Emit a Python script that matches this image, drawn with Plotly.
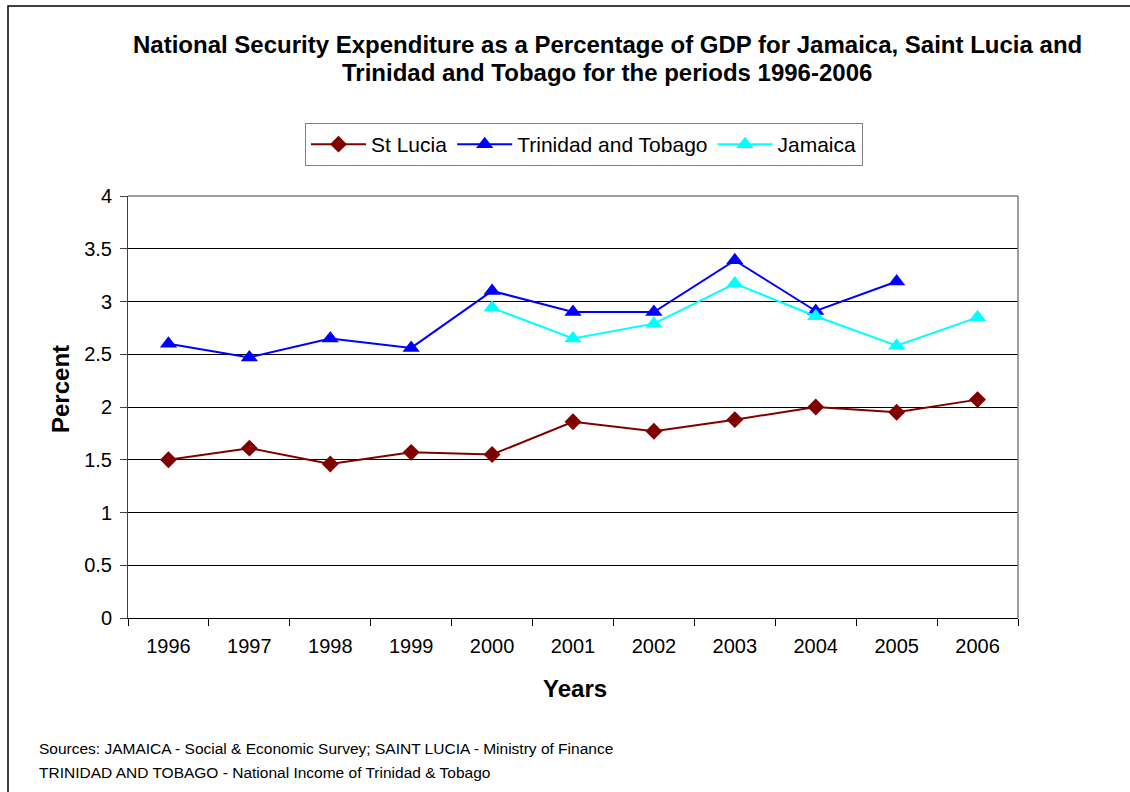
import plotly.graph_objects as go

years = ["1996", "1997", "1998", "1999", "2000", "2001", "2002", "2003", "2004", "2005", "2006"]
st_lucia = [1.50, 1.61, 1.46, 1.57, 1.55, 1.86, 1.77, 1.88, 2.00, 1.95, 2.07]
trinidad = [2.60, 2.47, 2.65, 2.56, 3.10, 2.90, 2.90, 3.39, 2.91, 3.19, None]
jamaica = [None, None, None, None, 2.94, 2.65, 2.79, 3.17, 2.86, 2.58, 2.85]
y_ticks = [0, 0.5, 1, 1.5, 2, 2.5, 3, 3.5, 4]
y_tick_labels = ["0", "0.5", "1", "1.5", "2", "2.5", "3", "3.5", "4"]

W, H = 1130, 792
L, R, T, B = 128, 1018, 196, 618

def px_x(p):
    return (p - L) / (R - L)

def px_y(p):
    return (B - p) / (B - T)

fig = go.Figure()
fig.add_trace(go.Scatter(x=years, y=st_lucia, name="St Lucia", mode="lines+markers",
                         line=dict(color="#800000", width=2),
                         marker=dict(symbol="diamond", size=13, color="#800000")))
fig.add_trace(go.Scatter(x=years, y=trinidad, name="Trinidad and Tobago", mode="lines+markers",
                         line=dict(color="#0000FF", width=2),
                         marker=dict(symbol="triangle-up", size=15, color="#0000FF")))
fig.add_trace(go.Scatter(x=years, y=jamaica, name="Jamaica", mode="lines+markers",
                         line=dict(color="#00FFFF", width=2),
                         marker=dict(symbol="triangle-up", size=15, color="#00FFFF")))

FONT = "Arial, Liberation Sans, sans-serif"

fig.update_layout(
    width=W, height=H,
    margin=dict(l=L, r=W - R, t=T, b=H - B, pad=0),
    paper_bgcolor="white", plot_bgcolor="white",
    font=dict(family=FONT, color="black", size=20),
    showlegend=True,
    legend=dict(orientation="h", x=px_x(305), y=px_y(123), xanchor="left", yanchor="top",
                bordercolor="#808080", borderwidth=1, font=dict(size=21),
                itemwidth=55, tracegroupgap=0, itemclick=False),
    xaxis=dict(type="category", tickson="boundaries", ticks="outside", ticklen=7,
               tickcolor="black", showline=True, linecolor="black", linewidth=1,
               showgrid=False, tickfont=dict(size=20), range=[-0.5, 10.5],
               ticklabelstandoff=10),
    yaxis=dict(range=[0, 4], tickvals=y_ticks, ticktext=y_tick_labels, ticks="outside",
               ticklen=7, tickcolor="#404040", showline=True, linecolor="#404040",
               linewidth=1, showgrid=True, gridcolor="black", gridwidth=1,
               zeroline=False, tickfont=dict(size=20), ticklabelstandoff=4),
    annotations=[
        dict(text="<b>National Security Expenditure as a Percentage of GDP for Jamaica, Saint Lucia and</b>",
             xref="paper", yref="paper", x=px_x(607), y=px_y(45), xanchor="center", yanchor="middle",
             showarrow=False, font=dict(size=24)),
        dict(text="<b>Trinidad and Tobago for the periods 1996-2006</b>",
             xref="paper", yref="paper", x=px_x(607), y=px_y(72), xanchor="center", yanchor="middle",
             showarrow=False, font=dict(size=24)),
        dict(text="<b>Years</b>", xref="paper", yref="paper", x=px_x(575), y=px_y(688),
             xanchor="center", yanchor="middle", showarrow=False, font=dict(size=24)),
        dict(text="<b>Percent</b>", xref="paper", yref="paper", x=px_x(60), y=px_y(389),
             xanchor="center", yanchor="middle", showarrow=False, textangle=-90,
             font=dict(size=24)),
        dict(text="Sources: JAMAICA - Social & Economic Survey; SAINT LUCIA - Ministry of Finance",
             xref="paper", yref="paper", x=px_x(37), y=px_y(748), xanchor="left", yanchor="middle",
             showarrow=False, font=dict(size=15.5)),
        dict(text="TRINIDAD AND TOBAGO - National Income of Trinidad & Tobago",
             xref="paper", yref="paper", x=px_x(37), y=px_y(772), xanchor="left", yanchor="middle",
             showarrow=False, font=dict(size=15.5)),
    ],
    shapes=[
        dict(type="rect", xref="paper", yref="paper", x0=px_x(8), x1=px_x(1140), y0=px_y(800), y1=px_y(6),
             line=dict(color="black", width=1.5), layer="below"),
        dict(type="line", xref="paper", yref="paper", x0=0, x1=1, y0=1, y1=1,
             line=dict(color="#808080", width=1.5)),
        dict(type="line", xref="paper", yref="paper", x0=1, x1=1, y0=0, y1=1,
             line=dict(color="#808080", width=1.5)),
    ],
)

fig.write_html("out.html")
